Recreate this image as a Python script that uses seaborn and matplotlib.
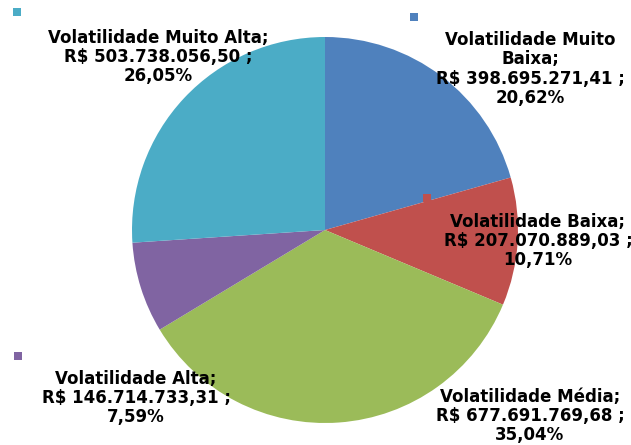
import matplotlib
matplotlib.use("Agg")
import matplotlib.pyplot as plt
import seaborn as sns

# Data
categories = ["Volatilidade Muito Baixa", "Volatilidade Baixa", "Volatilidade Média",
              "Volatilidade Alta", "Volatilidade Muito Alta"]
values = [398695271.41, 207070889.03, 677691769.68, 146714733.31, 503738056.50]
percents = [20.62, 10.71, 35.04, 7.59, 26.05]
colors = ["#4F81BD", "#C0504D", "#9BBB59", "#8064A2", "#4BACC6"]


def brl(v):
    s = f"{v:,.2f}"
    return s.replace(",", "X").replace(".", ",").replace("X", ".")


sns.set_theme(style="white")
plt.rcParams["font.family"] = ["DejaVu Sans"]

W, H = 631, 445
fig = plt.figure(figsize=(W / 100, H / 100), dpi=100)
ax = fig.add_axes([0, 0, 1, 1])

ax.pie(values, colors=sns.color_palette(colors), startangle=90, counterclock=False,
       center=(325, H - 230), radius=193, wedgeprops=dict(linewidth=0))

# pie() resets the limits, so set them afterwards
ax.set_xlim(0, W)
ax.set_ylim(0, H)
ax.set_aspect("equal")
ax.axis("off")

# label positions (pixel coords, y from top) and marker squares
label_pos = [(530, 69), (538, 241), (530, 416), (136, 398), (158, 57)]
square_pos = [(414, 17), (427, 198), None, (18, 356), (17, 12)]

for i, cat in enumerate(categories):
    name = cat
    if cat == "Volatilidade Muito Baixa":
        name = "Volatilidade Muito\nBaixa"
    pct = f"{percents[i]:.2f}".replace(".", ",") + "%"
    txt = f"{name};\nR$ {brl(values[i])} ;\n{pct}"
    x, y = label_pos[i]
    ax.text(x, H - y, txt, ha="center", va="center", fontsize=12,
            fontweight="bold", color="black", linespacing=1.08)
    if square_pos[i] is not None:
        sx, sy = square_pos[i]
        ax.add_patch(plt.Rectangle((sx - 4, H - sy - 4), 8, 8, color=colors[i], lw=0))

fig.savefig("out.png", dpi=100)
